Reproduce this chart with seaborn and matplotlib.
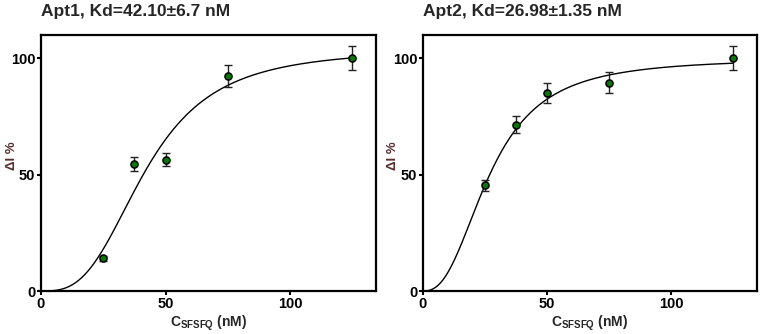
import numpy as np
import seaborn as sns
import matplotlib.pyplot as plt

# measured points (concentration in nM, response in %)
conc = [25, 37.5, 50, 75, 125]
apt1_y = [14.0, 54.6, 56.5, 92.4, 100.0]
apt1_err = [1.0, 2.9, 2.9, 4.6, 5.1]
apt2_y = [45.4, 71.4, 84.9, 89.4, 100.0]
apt2_err = [2.4, 3.7, 4.3, 4.5, 5.1]

# Hill fit parameters: (Bmax, Kd, n)
apt1_fit = (104.0, 42.10, 3.0)
apt2_fit = (100.0, 26.98, 2.5)

titles = ['Apt1, Kd=42.10\u00b16.7 nM', 'Apt2, Kd=26.98\u00b11.35 nM']

sns.set_style('ticks')
plt.rcParams['font.family'] = ['Liberation Sans', 'DejaVu Sans']
plt.rcParams['font.weight'] = 'bold'
plt.rcParams['mathtext.fontset'] = 'custom'
plt.rcParams['mathtext.rm'] = 'Liberation Sans:bold'
plt.rcParams['mathtext.bf'] = 'Liberation Sans:bold'


def hill(x, bmax, kd, n):
    return bmax * x ** n / (kd ** n + x ** n)


fig = plt.figure(figsize=(7.62, 3.34), dpi=100)
ax1 = fig.add_axes([0.0538, 0.1287, 0.4396, 0.7665])
ax2 = fig.add_axes([0.5547, 0.1287, 0.4383, 0.7665])

for ax, ys, errs, fit, title in [(ax1, apt1_y, apt1_err, apt1_fit, titles[0]),
                                 (ax2, apt2_y, apt2_err, apt2_fit, titles[1])]:
    xs = np.linspace(0, 125, 300)
    sns.lineplot(x=xs, y=hill(xs, *fit), ax=ax, color='black', linewidth=1.0)
    ax.errorbar(conc, ys, yerr=errs, fmt='none', ecolor='#222222',
                elinewidth=1.0, capsize=3, capthick=1.0)
    sns.scatterplot(x=conc, y=ys, ax=ax, color='#007a00', edgecolor='black',
                    linewidth=1.1, s=26, zorder=5)
    ax.set_xlim(0, 134.5)
    ax.set_ylim(0, 110)
    ax.set_xticks([0, 50, 100])
    ax.set_yticks([0, 50, 100])
    for sp in ax.spines.values():
        sp.set_linewidth(1.6)
        sp.set_color('black')
    ax.tick_params(axis='both', labelsize=10.5, width=1.5, length=3, colors='black', pad=1)
    for lbl in ax.get_xticklabels() + ax.get_yticklabels():
        lbl.set_fontweight('bold')
    ax.set_xlabel(r'C$_{\rm SFSFQ}$ (nM)', fontsize=10, fontweight='bold', labelpad=2)
    ax.set_ylabel('\u0394I %', fontsize=9.5, fontweight='bold', color='#5a2d2d')
    ax.yaxis.set_label_coords(-0.07, 0.53)
    ax.set_title(title, loc='left', fontsize=12.5, fontweight='bold', pad=14)

fig.savefig('out.png', dpi=100)
